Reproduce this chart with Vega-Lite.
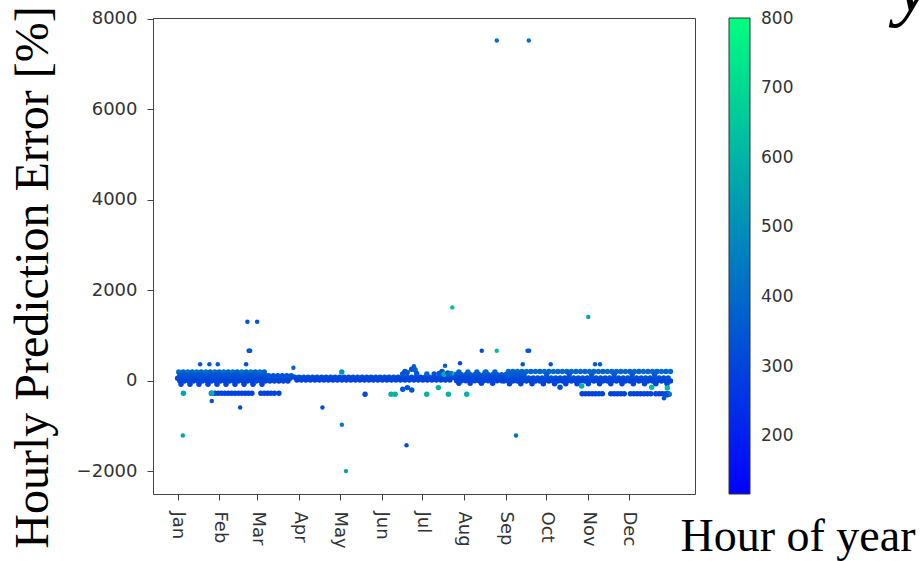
{
  "$schema": "https://vega.github.io/schema/vega-lite/v6.json",
  "width": 542,
  "height": 476,
  "autosize": {"type": "none"},
  "padding": {"left": 153, "top": 18, "right": 229, "bottom": 67},
  "background": "white",
  "title": {"text": "y", "font": "Liberation Serif", "fontStyle": "italic", "fontSize": 80, "fontWeight": "normal", "color": "black", "anchor": "end", "frame": "group", "orient": "top", "offset": -85, "baseline": "alphabetic", "dx": 236},
  "config": {
    "view": {"stroke": "#444", "strokeWidth": 1},
    "axis": {"domain": false, "grid": false, "tickColor": "#444", "tickSize": 6, "labelFont": "DejaVu Sans", "labelFontSize": 18, "labelColor": "#333", "titleColor": "black", "titleFont": "Liberation Serif", "titleFontWeight": "normal"}
  },
  "data": {"values": [
    {"h":20,"e":190,"c":420},{"h":100,"e":190,"c":380},{"h":180,"e":190,"c":420},{"h":260,"e":190,"c":380},{"h":340,"e":190,"c":420},{"h":420,"e":190,"c":380},{"h":500,"e":190,"c":420},{"h":580,"e":190,"c":380},{"h":660,"e":190,"c":420},{"h":740,"e":190,"c":380},{"h":820,"e":190,"c":420},{"h":900,"e":190,"c":380},{"h":980,"e":190,"c":420},{"h":1060,"e":190,"c":380},{"h":1140,"e":190,"c":420},{"h":1220,"e":190,"c":380},{"h":1300,"e":190,"c":420},{"h":1380,"e":190,"c":380},{"h":1460,"e":190,"c":420},{"h":1540,"e":190,"c":380},
    {"h":40,"e":120,"c":350},{"h":120,"e":120,"c":350},{"h":200,"e":120,"c":360},{"h":280,"e":120,"c":350},{"h":360,"e":120,"c":340},{"h":440,"e":120,"c":350},{"h":520,"e":120,"c":360},{"h":600,"e":120,"c":350},{"h":680,"e":120,"c":340},{"h":760,"e":120,"c":350},{"h":840,"e":120,"c":360},{"h":920,"e":120,"c":350},{"h":1000,"e":120,"c":340},{"h":1080,"e":120,"c":350},{"h":1160,"e":120,"c":360},{"h":1240,"e":120,"c":350},{"h":1320,"e":120,"c":340},{"h":1400,"e":120,"c":350},{"h":1480,"e":120,"c":360},{"h":1560,"e":120,"c":350},
    {"h":0,"e":55,"c":320},{"h":80,"e":55,"c":320},{"h":160,"e":55,"c":330},{"h":240,"e":55,"c":320},{"h":320,"e":55,"c":320},{"h":400,"e":55,"c":330},{"h":480,"e":55,"c":320},{"h":560,"e":55,"c":320},{"h":640,"e":55,"c":330},{"h":720,"e":55,"c":320},{"h":800,"e":55,"c":320},{"h":880,"e":55,"c":330},{"h":960,"e":55,"c":320},{"h":1040,"e":55,"c":320},{"h":1120,"e":55,"c":330},{"h":1200,"e":55,"c":320},{"h":1280,"e":55,"c":320},{"h":1360,"e":55,"c":330},{"h":1440,"e":55,"c":320},{"h":1520,"e":55,"c":320},{"h":1600,"e":55,"c":330},{"h":1680,"e":55,"c":320},{"h":1760,"e":55,"c":320},{"h":1840,"e":55,"c":330},{"h":1920,"e":55,"c":320},{"h":2000,"e":55,"c":320},
    {"h":40,"e":-10,"c":300},{"h":120,"e":-10,"c":300},{"h":200,"e":-10,"c":310},{"h":280,"e":-10,"c":300},{"h":360,"e":-10,"c":300},{"h":440,"e":-10,"c":310},{"h":520,"e":-10,"c":300},{"h":600,"e":-10,"c":300},{"h":680,"e":-10,"c":310},{"h":760,"e":-10,"c":300},{"h":840,"e":-10,"c":300},{"h":920,"e":-10,"c":310},{"h":1000,"e":-10,"c":300},{"h":1080,"e":-10,"c":300},{"h":1160,"e":-10,"c":310},{"h":1240,"e":-10,"c":300},{"h":1320,"e":-10,"c":300},{"h":1400,"e":-10,"c":310},{"h":1480,"e":-10,"c":300},{"h":1560,"e":-10,"c":300},{"h":1640,"e":-10,"c":310},{"h":1720,"e":-10,"c":300},{"h":1800,"e":-10,"c":300},{"h":1880,"e":-10,"c":310},{"h":1960,"e":-10,"c":300},
    {"h":60,"e":-80,"c":300},{"h":220,"e":-80,"c":300},{"h":380,"e":-80,"c":300},{"h":540,"e":-80,"c":300},{"h":700,"e":-80,"c":300},{"h":860,"e":-80,"c":300},{"h":1020,"e":-80,"c":300},{"h":1180,"e":-80,"c":300},{"h":1340,"e":-80,"c":300},{"h":1500,"e":-80,"c":300},
    {"h":1620,"e":110,"c":340},{"h":1700,"e":110,"c":340},{"h":1780,"e":110,"c":340},{"h":1860,"e":110,"c":340},{"h":1940,"e":110,"c":340},{"h":2020,"e":110,"c":340},
    {"h":2080,"e":75,"c":320},{"h":2160,"e":75,"c":320},{"h":2240,"e":75,"c":320},{"h":2320,"e":75,"c":320},{"h":2400,"e":75,"c":320},{"h":2480,"e":75,"c":320},{"h":2560,"e":75,"c":320},{"h":2640,"e":75,"c":320},{"h":2720,"e":75,"c":320},{"h":2800,"e":75,"c":320},{"h":2880,"e":75,"c":320},{"h":2960,"e":75,"c":320},{"h":3040,"e":75,"c":320},{"h":3120,"e":75,"c":320},{"h":3200,"e":75,"c":320},{"h":3280,"e":75,"c":320},{"h":3360,"e":75,"c":320},{"h":3440,"e":75,"c":320},{"h":3520,"e":75,"c":320},{"h":3600,"e":75,"c":320},{"h":3680,"e":75,"c":320},{"h":3760,"e":75,"c":320},{"h":3840,"e":75,"c":320},{"h":3920,"e":75,"c":320},{"h":4000,"e":75,"c":320},{"h":4080,"e":75,"c":320},{"h":4160,"e":75,"c":320},{"h":4240,"e":75,"c":320},{"h":4320,"e":75,"c":320},{"h":4400,"e":75,"c":320},{"h":4480,"e":75,"c":320},{"h":4560,"e":75,"c":320},{"h":4640,"e":75,"c":320},{"h":4720,"e":75,"c":320},{"h":4800,"e":75,"c":320},{"h":4880,"e":75,"c":320},
    {"h":2120,"e":15,"c":300},{"h":2200,"e":15,"c":300},{"h":2280,"e":15,"c":300},{"h":2360,"e":15,"c":300},{"h":2440,"e":15,"c":300},{"h":2520,"e":15,"c":300},{"h":2600,"e":15,"c":300},{"h":2680,"e":15,"c":300},{"h":2760,"e":15,"c":300},{"h":2840,"e":15,"c":300},{"h":2920,"e":15,"c":300},{"h":3000,"e":15,"c":300},{"h":3080,"e":15,"c":300},{"h":3160,"e":15,"c":300},{"h":3240,"e":15,"c":300},{"h":3320,"e":15,"c":300},{"h":3400,"e":15,"c":300},{"h":3480,"e":15,"c":300},{"h":3560,"e":15,"c":300},{"h":3640,"e":15,"c":300},{"h":3720,"e":15,"c":300},{"h":3800,"e":15,"c":300},{"h":3880,"e":15,"c":300},{"h":3960,"e":15,"c":300},{"h":4040,"e":15,"c":300},{"h":4120,"e":15,"c":300},{"h":4200,"e":15,"c":300},{"h":4280,"e":15,"c":300},{"h":4360,"e":15,"c":300},{"h":4440,"e":15,"c":300},{"h":4520,"e":15,"c":300},{"h":4600,"e":15,"c":300},{"h":4680,"e":15,"c":300},{"h":4760,"e":15,"c":300},{"h":4840,"e":15,"c":300},
    {"h":4000,"e":150,"c":360},{"h":4040,"e":200,"c":330},{"h":4080,"e":180,"c":350},{"h":4160,"e":250,"c":340},{"h":4200,"e":320,"c":360},{"h":4220,"e":240,"c":380},{"h":4250,"e":160,"c":340},{"h":4430,"e":150,"c":380},{"h":4560,"e":150,"c":340},{"h":4650,"e":160,"c":350},{"h":4700,"e":200,"c":330},{"h":4740,"e":140,"c":600},{"h":4800,"e":170,"c":350},{"h":4860,"e":160,"c":420},{"h":4931,"e":141,"c":650},{"h":5464,"e":185,"c":620},
    {"h":5000,"e":190,"c":380},{"h":5160,"e":190,"c":380},{"h":5320,"e":190,"c":380},{"h":5480,"e":190,"c":380},{"h":5640,"e":190,"c":380},
    {"h":4960,"e":130,"c":350},{"h":5040,"e":130,"c":350},{"h":5120,"e":130,"c":350},{"h":5200,"e":130,"c":350},{"h":5280,"e":130,"c":350},{"h":5360,"e":130,"c":350},{"h":5440,"e":130,"c":350},{"h":5520,"e":130,"c":350},{"h":5600,"e":130,"c":350},{"h":5680,"e":130,"c":350},{"h":5760,"e":130,"c":350},
    {"h":4920,"e":65,"c":320},{"h":5000,"e":65,"c":320},{"h":5080,"e":65,"c":320},{"h":5160,"e":65,"c":320},{"h":5240,"e":65,"c":320},{"h":5320,"e":65,"c":320},{"h":5400,"e":65,"c":320},{"h":5480,"e":65,"c":320},{"h":5560,"e":65,"c":320},{"h":5640,"e":65,"c":320},{"h":5720,"e":65,"c":320},{"h":5800,"e":65,"c":320},
    {"h":4960,"e":0,"c":300},{"h":5040,"e":0,"c":300},{"h":5120,"e":0,"c":300},{"h":5200,"e":0,"c":300},{"h":5280,"e":0,"c":300},{"h":5360,"e":0,"c":300},{"h":5440,"e":0,"c":300},{"h":5520,"e":0,"c":300},{"h":5600,"e":0,"c":300},{"h":5680,"e":0,"c":300},{"h":5760,"e":0,"c":300},
    {"h":5000,"e":-60,"c":300},{"h":5200,"e":-60,"c":300},{"h":5400,"e":-60,"c":300},{"h":5600,"e":-60,"c":300},
    {"h":5880,"e":200,"c":400},{"h":5960,"e":200,"c":380},{"h":6040,"e":200,"c":400},{"h":6120,"e":200,"c":380},{"h":6200,"e":200,"c":400},{"h":6280,"e":200,"c":380},{"h":6360,"e":200,"c":400},{"h":6440,"e":200,"c":380},{"h":6520,"e":200,"c":400},{"h":6600,"e":200,"c":380},{"h":6680,"e":200,"c":400},{"h":6760,"e":200,"c":380},{"h":6840,"e":200,"c":400},{"h":6920,"e":200,"c":380},{"h":7000,"e":200,"c":400},{"h":7080,"e":200,"c":380},{"h":7160,"e":200,"c":400},{"h":7240,"e":200,"c":380},{"h":7320,"e":200,"c":400},{"h":7400,"e":200,"c":380},{"h":7480,"e":200,"c":400},{"h":7560,"e":200,"c":380},{"h":7640,"e":200,"c":400},{"h":7720,"e":200,"c":380},{"h":7800,"e":200,"c":400},{"h":7880,"e":200,"c":380},{"h":7960,"e":200,"c":400},{"h":8040,"e":200,"c":380},{"h":8120,"e":200,"c":400},{"h":8200,"e":200,"c":380},{"h":8280,"e":200,"c":400},{"h":8360,"e":200,"c":380},{"h":8440,"e":200,"c":400},{"h":8520,"e":200,"c":380},{"h":8600,"e":200,"c":400},{"h":8680,"e":200,"c":380},{"h":8760,"e":200,"c":400},
    {"h":5840,"e":135,"c":360},{"h":5920,"e":135,"c":360},{"h":6000,"e":135,"c":360},{"h":6080,"e":135,"c":360},{"h":6160,"e":135,"c":360},{"h":6560,"e":135,"c":360},{"h":6960,"e":135,"c":360},{"h":7360,"e":135,"c":360},{"h":7760,"e":135,"c":360},{"h":8080,"e":135,"c":360},{"h":8480,"e":135,"c":360},
    {"h":5840,"e":60,"c":330},{"h":5920,"e":60,"c":330},{"h":6000,"e":60,"c":330},{"h":6080,"e":60,"c":330},{"h":6160,"e":60,"c":330},{"h":6240,"e":60,"c":330},{"h":6320,"e":60,"c":330},{"h":6400,"e":60,"c":330},{"h":6480,"e":60,"c":330},{"h":6560,"e":60,"c":330},{"h":6640,"e":60,"c":330},{"h":6720,"e":60,"c":330},{"h":6800,"e":60,"c":330},{"h":6880,"e":60,"c":330},{"h":6960,"e":60,"c":330},{"h":7040,"e":60,"c":330},{"h":7120,"e":60,"c":330},{"h":7200,"e":60,"c":330},{"h":7280,"e":60,"c":330},{"h":7360,"e":60,"c":330},{"h":7440,"e":60,"c":330},{"h":7520,"e":60,"c":330},{"h":7600,"e":60,"c":330},{"h":7680,"e":60,"c":330},{"h":7760,"e":60,"c":330},{"h":7840,"e":60,"c":330},{"h":7920,"e":60,"c":330},{"h":8000,"e":60,"c":330},{"h":8080,"e":60,"c":330},{"h":8160,"e":60,"c":330},{"h":8240,"e":60,"c":330},{"h":8320,"e":60,"c":330},{"h":8400,"e":60,"c":330},{"h":8480,"e":60,"c":330},{"h":8560,"e":60,"c":330},{"h":8640,"e":60,"c":330},{"h":8720,"e":60,"c":330},
    {"h":5800,"e":-10,"c":300},{"h":5880,"e":-10,"c":300},{"h":5960,"e":-10,"c":300},{"h":6040,"e":-10,"c":300},{"h":6120,"e":-10,"c":300},{"h":6200,"e":-10,"c":300},{"h":6280,"e":-10,"c":300},{"h":6360,"e":-10,"c":300},{"h":6440,"e":-10,"c":300},{"h":6520,"e":-10,"c":300},{"h":6600,"e":-10,"c":300},{"h":6680,"e":-10,"c":300},{"h":6760,"e":-10,"c":300},{"h":6840,"e":-10,"c":300},{"h":6920,"e":-10,"c":300},{"h":7000,"e":-10,"c":300},{"h":7080,"e":-10,"c":300},{"h":7160,"e":-10,"c":300},{"h":7240,"e":-10,"c":300},{"h":7320,"e":-10,"c":300},{"h":7400,"e":-10,"c":300},{"h":7480,"e":-10,"c":300},{"h":7560,"e":-10,"c":300},{"h":7640,"e":-10,"c":300},{"h":7720,"e":-10,"c":300},{"h":7800,"e":-10,"c":300},{"h":7880,"e":-10,"c":300},{"h":7960,"e":-10,"c":300},{"h":8040,"e":-10,"c":300},{"h":8120,"e":-10,"c":300},{"h":8200,"e":-10,"c":300},{"h":8280,"e":-10,"c":300},{"h":8360,"e":-10,"c":300},{"h":8440,"e":-10,"c":300},{"h":8520,"e":-10,"c":300},{"h":8600,"e":-10,"c":300},{"h":8680,"e":-10,"c":300},{"h":8760,"e":-10,"c":300},
    {"h":5900,"e":-70,"c":300},{"h":6100,"e":-70,"c":300},{"h":6300,"e":-70,"c":300},{"h":6500,"e":-70,"c":300},{"h":6700,"e":-70,"c":300},{"h":6900,"e":-70,"c":300},{"h":7100,"e":-70,"c":300},{"h":7300,"e":-70,"c":300},{"h":7500,"e":-70,"c":300},{"h":7700,"e":-70,"c":300},{"h":7900,"e":-70,"c":300},{"h":8100,"e":-70,"c":300},{"h":8300,"e":-70,"c":300},{"h":8500,"e":-70,"c":300},{"h":8700,"e":-70,"c":300},
    {"h":600,"e":-280,"c":300},{"h":660,"e":-280,"c":300},{"h":720,"e":-280,"c":300},{"h":780,"e":-280,"c":300},{"h":840,"e":-280,"c":300},{"h":900,"e":-280,"c":300},{"h":960,"e":-280,"c":300},{"h":1020,"e":-280,"c":300},{"h":1080,"e":-280,"c":300},{"h":1140,"e":-280,"c":300},{"h":1200,"e":-280,"c":300},{"h":1260,"e":-280,"c":300},{"h":1320,"e":-280,"c":300},{"h":1480,"e":-280,"c":300},{"h":1540,"e":-280,"c":300},{"h":1600,"e":-280,"c":300},{"h":1660,"e":-280,"c":300},{"h":1720,"e":-280,"c":300},{"h":1800,"e":-280,"c":300},
    {"h":7190,"e":-290,"c":300},{"h":7250,"e":-290,"c":300},{"h":7310,"e":-290,"c":300},{"h":7370,"e":-290,"c":300},{"h":7430,"e":-290,"c":300},{"h":7490,"e":-290,"c":300},{"h":7550,"e":-290,"c":300},{"h":7700,"e":-290,"c":300},{"h":7760,"e":-290,"c":300},{"h":7820,"e":-290,"c":300},{"h":7880,"e":-290,"c":300},{"h":7940,"e":-290,"c":300},{"h":8050,"e":-290,"c":300},{"h":8110,"e":-290,"c":300},{"h":8170,"e":-290,"c":300},{"h":8230,"e":-290,"c":300},{"h":8290,"e":-290,"c":300},{"h":8350,"e":-290,"c":300},{"h":8410,"e":-290,"c":300},{"h":8500,"e":-290,"c":300},{"h":8560,"e":-290,"c":300},{"h":8620,"e":-290,"c":300},{"h":8680,"e":-290,"c":300},{"h":8720,"e":-290,"c":300},
    {"h":5674,"e":7520,"c":420},{"h":6243,"e":7520,"c":420},
    {"h":1240,"e":1300,"c":340},{"h":1413,"e":1300,"c":340},
    {"h":1262,"e":660,"c":340},{"h":1276,"e":660,"c":340},{"h":1290,"e":660,"c":360},
    {"h":4883,"e":1620,"c":640},{"h":7300,"e":1410,"c":560},
    {"h":5406,"e":660,"c":330},{"h":5673,"e":660,"c":620},{"h":6220,"e":660,"c":340},{"h":6248,"e":660,"c":340},
    {"h":400,"e":362,"c":350},{"h":565,"e":362,"c":350},{"h":714,"e":362,"c":350},{"h":1217,"e":362,"c":340},
    {"h":2058,"e":287,"c":380},{"h":2918,"e":190,"c":520},{"h":4754,"e":331,"c":360},{"h":5020,"e":384,"c":320},
    {"h":6135,"e":362,"c":350},{"h":6632,"e":362,"c":350},{"h":7420,"e":362,"c":360},{"h":7508,"e":362,"c":360},
    {"h":103,"e":-278,"c":560},{"h":92,"e":-1212,"c":560},{"h":607,"e":-278,"c":580},{"h":607,"e":-448,"c":330},{"h":1111,"e":-595,"c":320},{"h":2574,"e":-595,"c":330},{"h":2919,"e":-974,"c":450},{"h":2992,"e":-2000,"c":560},
    {"h":3332,"e":-300,"c":330},{"h":3794,"e":-300,"c":600},{"h":3866,"e":-300,"c":600},{"h":4002,"e":-190,"c":340},{"h":4084,"e":-154,"c":340},{"h":4162,"e":-205,"c":330},{"h":4428,"e":-300,"c":600},{"h":4635,"e":-154,"c":600},{"h":4813,"e":-300,"c":600},{"h":5139,"e":-300,"c":600},
    {"h":4069,"e":-1428,"c":330},{"h":6015,"e":-1212,"c":420},{"h":6798,"e":-146,"c":330},{"h":7183,"e":-117,"c":600},{"h":8427,"e":-146,"c":620},{"h":8705,"e":-160,"c":620},{"h":8646,"e":-389,"c":330},{"h":8700,"e":-330,"c":330},{"h":8740,"e":-300,"c":450}
  ]},
  "encoding": {
    "x": {"field": "h", "type": "quantitative", "scale": {"domain": [-438, 9197], "nice": false, "zero": false},
      "axis": {"values": [0,744,1416,2160,2880,3624,4344,5088,5832,6552,7296,8016],
        "labelExpr": "['Jan','Feb','Mar','Apr','May','Jun','Jul','Aug','Sep','Oct','Nov','Dec'][indexof([0,744,1416,2160,2880,3624,4344,5088,5832,6552,7296,8016], datum.value)]",
        "labelAngle": 90, "labelAlign": "left", "labelBaseline": "middle", "labelPadding": 11,
        "title": "Hour of year", "titleFontSize": 46, "titleX": 527, "titleY": 56, "titleAlign": "left", "titleBaseline": "alphabetic", "titleAngle": 0}},
    "y": {"field": "e", "type": "quantitative", "scale": {"domain": [-2506, 8018], "nice": false, "zero": false},
      "axis": {"values": [-2000,0,2000,4000,6000,8000], "labelPadding": 10, "format": "d",
        "title": "Hourly Prediction Error [%]", "titleFontSize": 48, "titleAngle": -90, "titleX": -106, "titleY": 259, "titleAlign": "center", "titleBaseline": "alphabetic"}},
    "color": {"field": "c", "type": "quantitative",
      "scale": {"type": "linear", "domain": [117, 801], "range": ["#0000ff", "#00ff80"], "interpolate": "rgb"},
      "legend": {"orient": "none", "legendX": 576, "legendY": 0, "direction": "vertical", "gradientLength": 476, "gradientThickness": 21, "title": null, "values": [200,300,400,500,600,700,800], "labelFont": "DejaVu Sans", "labelFontSize": 17, "labelColor": "#333", "labelOffset": 11, "labelBaseline": "middle", "labelOverlap": false, "gradientStrokeColor": "#333", "gradientStrokeWidth": 1, "padding": 0}}
  },
  "layer": [
    {"transform": [{"filter": {"field": "e", "range": [-320, 260]}}],
     "mark": {"type": "point", "filled": true, "size": 30, "opacity": 1, "shape": "circle"}},
    {"transform": [{"filter": {"not": {"field": "e", "range": [-320, 260]}}}],
     "mark": {"type": "point", "filled": true, "size": 20, "opacity": 1, "shape": "circle"}}
  ]
}
